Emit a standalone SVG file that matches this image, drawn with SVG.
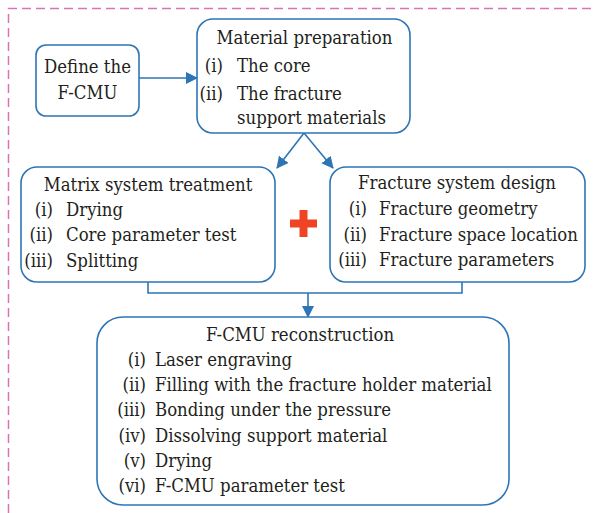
<svg xmlns="http://www.w3.org/2000/svg" width="593" height="513" viewBox="0 0 593 513">
<defs>
<marker id="ah" markerWidth="12" markerHeight="12" refX="11" refY="6" orient="auto" markerUnits="userSpaceOnUse">
<path d="M0,0 L12,6 L0,12 Z" fill="#2e75b6"/>
</marker>
<style>
.box{fill:#fff;stroke:#2e75b6;stroke-width:1.6}
.con{fill:none;stroke:#2e75b6;stroke-width:1.6}
text{font-family:"DejaVu Serif Condensed","DejaVu Serif",serif;font-stretch:condensed;font-size:18.4px;fill:#231f20}
.c{text-anchor:middle}
.e{text-anchor:end}
</style>
</defs>
<rect width="593" height="513" fill="#fff"/>
<path d="M8.5,513 V8.5 H593" fill="none" stroke="#d874b4" stroke-width="1.5" stroke-dasharray="9,5"/>

<g id="connectors">
<line class="con" x1="139" y1="78" x2="197" y2="78" marker-end="url(#ah)"/>
<line class="con" x1="304" y1="133" x2="277" y2="168" marker-end="url(#ah)"/>
<line class="con" x1="304" y1="133" x2="333" y2="168" marker-end="url(#ah)"/>
<polyline class="con" points="148,282 148,293 462,293 462,282"/>
<line class="con" x1="308" y1="293" x2="308" y2="317" marker-end="url(#ah)"/>
</g>

<g id="define">
<rect class="box" x="36" y="45" width="103" height="71" rx="10"/>
<text class="c" x="87.5" y="73">Define the</text>
<text class="c" x="87.5" y="99">F-CMU</text>
</g>

<g id="material">
<rect class="box" x="197" y="19" width="213" height="114" rx="16"/>
<text class="c" x="304.5" y="44">Material preparation</text>
<text class="e" x="223" y="72">(i)</text><text x="237" y="72">The core</text>
<text class="e" x="223" y="100">(ii)</text><text x="237" y="100">The fracture</text>
<text x="237" y="124">support materials</text>
</g>

<g id="matrix">
<rect class="box" x="21" y="167" width="254" height="115" rx="16"/>
<text class="c" x="148" y="191">Matrix system treatment</text>
<text class="e" x="53" y="216">(i)</text><text x="66" y="216">Drying</text>
<text class="e" x="53" y="241">(ii)</text><text x="66" y="241">Core parameter test</text>
<text class="e" x="53" y="267">(iii)</text><text x="66" y="267">Splitting</text>
</g>

<g id="plus">
<rect x="290" y="219.5" width="27" height="8" fill="#ef4423"/>
<rect x="299.5" y="210" width="8" height="27" fill="#ef4423"/>
</g>

<g id="fracture">
<rect class="box" x="330" y="167" width="255" height="115" rx="16"/>
<text class="c" x="457" y="189">Fracture system design</text>
<text class="e" x="367" y="215">(i)</text><text x="379" y="215">Fracture geometry</text>
<text class="e" x="367" y="241">(ii)</text><text x="379" y="241">Fracture space location</text>
<text class="e" x="367" y="266">(iii)</text><text x="379" y="266">Fracture parameters</text>
</g>

<g id="reconstruction">
<rect class="box" x="97" y="317" width="412" height="188" rx="26"/>
<text class="c" x="300" y="341">F-CMU reconstruction</text>
<text class="e" x="146" y="366">(i)</text><text x="155" y="366">Laser engraving</text>
<text class="e" x="146" y="391">(ii)</text><text x="155" y="391">Filling with the fracture holder material</text>
<text class="e" x="146" y="416">(iii)</text><text x="155" y="416">Bonding under the pressure</text>
<text class="e" x="146" y="442">(iv)</text><text x="155" y="442">Dissolving support material</text>
<text class="e" x="146" y="467">(v)</text><text x="155" y="467">Drying</text>
<text class="e" x="146" y="492">(vi)</text><text x="155" y="492">F-CMU parameter test</text>
</g>
</svg>
